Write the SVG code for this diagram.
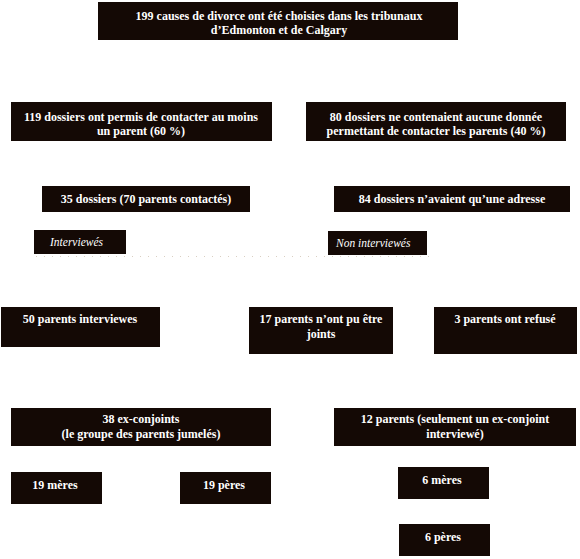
<svg xmlns="http://www.w3.org/2000/svg" width="580" height="559" viewBox="0 0 580 559">
<style>
.b{fill:#140905}
.t{fill:#ffffff;font-family:"Liberation Serif","Times New Roman",serif;font-size:12px;font-weight:bold;text-anchor:middle}
.i{fill:#ffffff;font-family:"Liberation Serif","Times New Roman",serif;font-size:11.5px;font-style:italic}
.c{stroke:#d9cfc2;stroke-width:1;stroke-dasharray:1 7;fill:none}
</style>
<rect width="580" height="559" fill="#ffffff"/>
<g id="connectors">
<line class="c" x1="36" y1="256.5" x2="430" y2="256.5"/>
</g>
<g id="n-top"><rect class="b" x="98" y="2" width="360" height="38"/><text class="t" x="279" y="20">199 causes de divorce ont été choisies dans les tribunaux</text><text class="t" x="279" y="34">d’Edmonton et de Calgary</text></g>
<g id="n-119"><rect class="b" x="11" y="102" width="261" height="39"/><text class="t" x="141" y="121">119 dossiers ont permis de contacter au moins</text><text class="t" x="141" y="135">un parent (60 %)</text></g>
<g id="n-80"><rect class="b" x="306" y="102" width="260" height="39"/><text class="t" x="436" y="121">80 dossiers ne contenaient aucune donnée</text><text class="t" x="436" y="135">permettant de contacter les parents (40 %)</text></g>
<g id="n-35"><rect class="b" x="42" y="186" width="208" height="26"/><text class="t" x="146" y="203">35 dossiers (70 parents contactés)</text></g>
<g id="n-84"><rect class="b" x="334" y="186" width="236" height="26"/><text class="t" x="452" y="203">84 dossiers n’avaient qu’une adresse</text></g>
<g id="n-int"><rect class="b" x="34" y="230" width="92" height="24"/><text class="i" x="50" y="246">Interviewés</text></g>
<g id="n-nonint"><rect class="b" x="328" y="231" width="99" height="24"/><text class="i" x="336" y="247">Non interviewés</text></g>
<g id="n-50"><rect class="b" x="1" y="307" width="159" height="40"/><text class="t" x="80" y="323">50 parents interviewes</text></g>
<g id="n-17"><rect class="b" x="249" y="307" width="144" height="47"/><text class="t" x="321" y="323">17 parents n’ont pu être</text><text class="t" x="321" y="338">joints</text></g>
<g id="n-3"><rect class="b" x="434" y="307" width="143" height="47"/><text class="t" x="505" y="323">3 parents ont refusé</text></g>
<g id="n-38"><rect class="b" x="11" y="408" width="260" height="38"/><text class="t" x="141" y="423">38 ex-conjoints</text><text class="t" x="141" y="438">(le groupe des parents jumelés)</text></g>
<g id="n-12"><rect class="b" x="334" y="408" width="242" height="38"/><text class="t" x="455" y="423">12 parents (seulement un ex-conjoint</text><text class="t" x="455" y="438">interviewé)</text></g>
<g id="n-19m"><rect class="b" x="11" y="472" width="91" height="32"/><text class="t" x="55" y="489">19 mères</text></g>
<g id="n-19p"><rect class="b" x="180" y="472" width="91" height="32"/><text class="t" x="224" y="489">19 pères</text></g>
<g id="n-6m"><rect class="b" x="398" y="467" width="91" height="32"/><text class="t" x="442" y="484">6 mères</text></g>
<g id="n-6p"><rect class="b" x="399" y="524" width="91" height="32"/><text class="t" x="443" y="541">6 pères</text></g>
</svg>
